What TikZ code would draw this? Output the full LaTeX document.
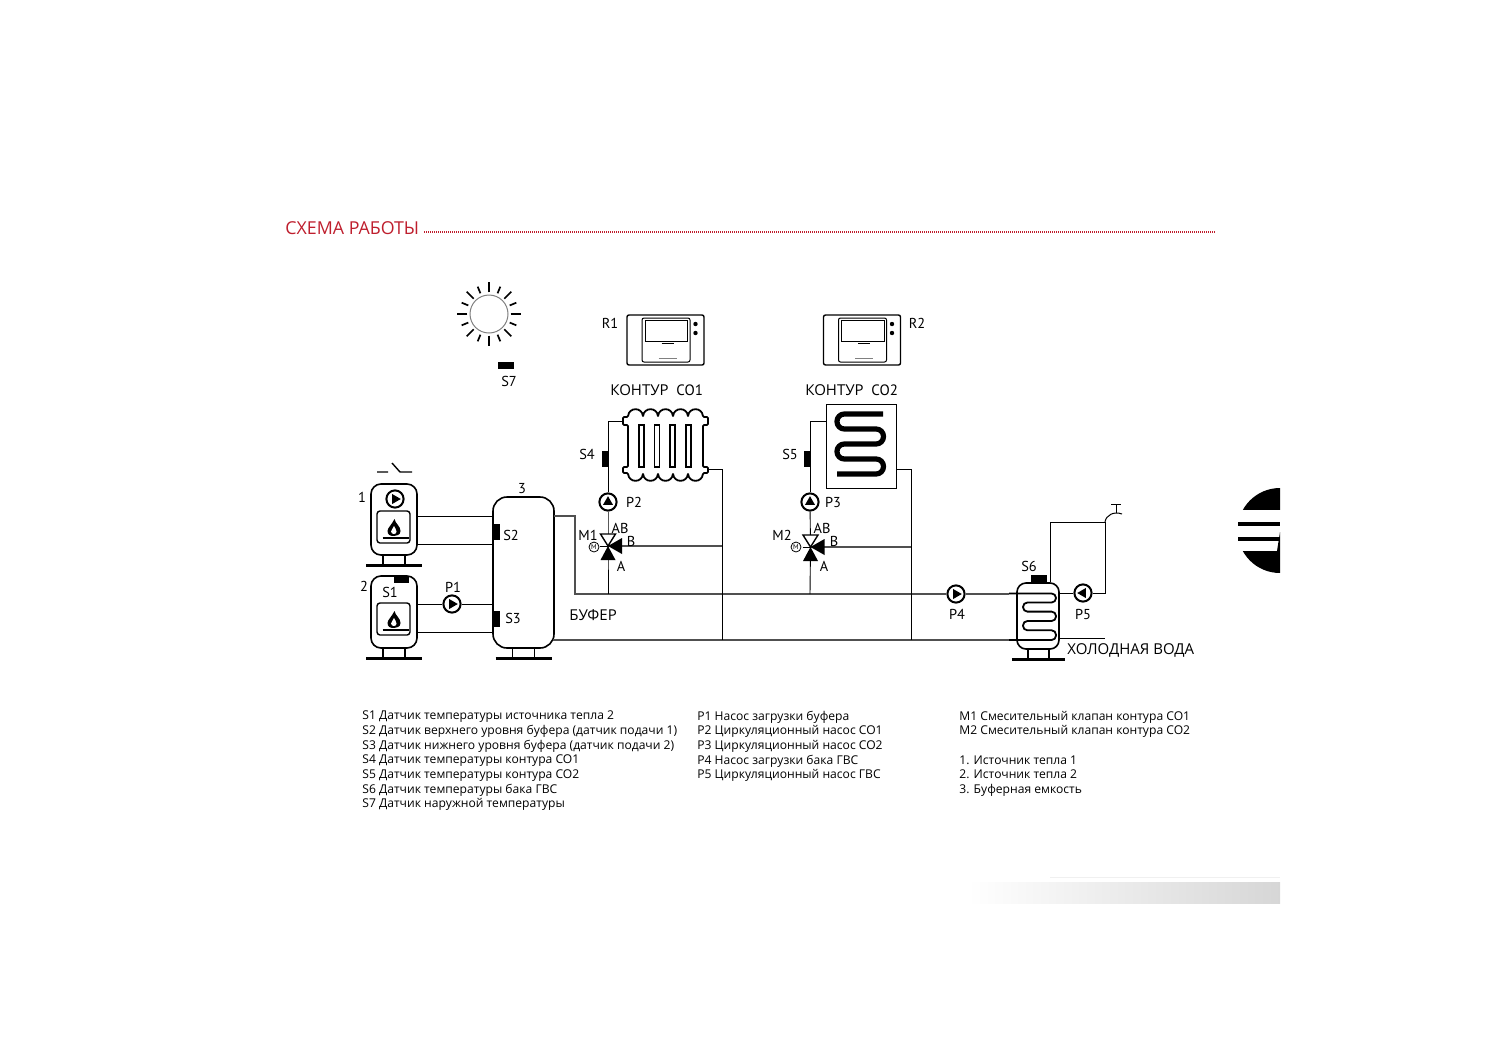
\documentclass[tikz,border=0pt]{standalone}
\usepackage{fontspec}
\setmainfont{Open Sans}
\newfontfamily\dinfont{PT Sans}
\usetikzlibrary{positioning}
\definecolor{schemered}{HTML}{BE1E2D}
\definecolor{pipegray}{HTML}{505050}
\tikzset{
  pipe/.style={line width=0.45pt,draw=black},
  mainpipe/.style={line width=0.7pt,draw=pipegray},
  vessel/.style={draw,line width=0.8pt,rounded corners=5pt,fill=white,inner sep=0pt},
  sensor/.style={fill=black,inner sep=0pt,minimum width=#1},
  pumpnode/.style={circle,draw,line width=1pt,fill=white,inner sep=0pt,minimum size=8.6pt,
    path picture={\fill[black] ([shift={(#1:2.9pt)}]path picture bounding box.center)
      -- ([shift={(#1+120:2.9pt)}]path picture bounding box.center)
      -- ([shift={(#1+240:2.9pt)}]path picture bounding box.center) -- cycle;}},
  lbl/.style={font=\dinfont\fontsize{7.2}{8}\selectfont,inner sep=0pt},
  capt/.style={font=\fontsize{7.5}{8}\selectfont,inner sep=0pt},
  legend/.style={font=\fontsize{6.05}{7.35}\selectfont,inner sep=0pt,anchor=north west,align=left},
  feet/.pic={
    \draw[line width=0.8pt] (-11,0) -- (-11,10) (11,0) -- (11,10);
    \draw[line width=1.3pt] (-28,10.5) -- (28,10.5);
  },
  burner/.pic={
    \draw[line width=0.7pt,rounded corners=1.5pt] (-16.5,-16) rectangle (16.5,16);
    \fill (1,-8) .. controls (2,-3) and (7,-1) .. (7,4) .. controls (7,8) and (3,9) .. (0.5,9)
      .. controls (-3,9) and (-6,8) .. (-6,4) .. controls (-6,1) and (-2,-2) .. (1,-8) -- cycle;
    \fill[white] (0.5,-1) .. controls (1,1) and (3,2) .. (3,4.5) .. controls (3,6) and (2,7) .. (0.5,7)
      .. controls (-1,7) and (-2.5,6) .. (-2.5,4.5) .. controls (-2.5,3) and (0,1) .. (0.5,-1) -- cycle;
    \draw[line width=0.9pt] (-11,11) -- (15,11);
  },
  mixvalve/.pic={
    \draw[line width=0.7pt,fill=white] (-7.5,-12) -- (7.5,-12) -- (0,0) -- cycle;
    \fill (-7.5,14) -- (7.5,14) -- (0,0) -- cycle;
    \fill (14,-8) -- (14,8) -- (0,0) -- cycle;
    \draw[line width=0.4pt] (-8,0) -- (0,0);
  },
  panel/.pic={
    \draw[line width=0.7pt,rounded corners=1pt] (-38.5,-25) rectangle (38.5,25);
    \draw[line width=0.5pt,rounded corners=1pt] (-23.5,-22) rectangle (24.5,22);
    \draw[line width=0.5pt] (-20.5,-20) rectangle (22,1);
    \draw[line width=0.9pt] (-4,3.5) -- (8,3.5);
    \draw[line width=0.3pt,gray] (-7,18) -- (11,18);
    \fill (30,-16) circle (1.1pt) (30,-7) circle (1.1pt);
  },
}
\begin{document}
\begin{tikzpicture}[x=0.5pt,y=-0.5pt]
  \useasboundingbox (0,0) rectangle (1500,1061);

  % heading
  \node[font=\fontsize{8.9}{10}\selectfont,text=schemered,inner sep=0pt,anchor=west] (title) at (285,228) {СХЕМА РАБОТЫ};
  \coordinate (ruleend) at (1215,232);
  \draw[schemered,line width=0.6pt,dash pattern=on 0.5pt off 0.5pt] (424,232) -- (ruleend);

  % vessels
  \node[vessel,minimum width=23pt,minimum height=35.5pt] (boilerA) at (394,519.5) {};
  \node[vessel,minimum width=23pt,minimum height=36pt] (boilerB) at (394,612) {};
  \node[vessel,rounded corners=7pt,minimum width=30.5pt,minimum height=75.5pt] (buffer) at (523.5,572.5) {};
  \pic at (394,555) {feet};
  \pic at (394,648) {feet};
  \pic at (523.5,648) {feet};
  \pic at (393.5,527) {burner};
  \pic at (393.5,619) {burner};

  % burner switch
  \coordinate (swa) at (377,472);
  \coordinate (swb) at (388,472);
  \coordinate (swc) at (392,463);
  \coordinate (swd) at (400,472);
  \coordinate (swe) at (412,472);
  \draw[line width=0.7pt] (swa) -- (swb) (swc) -- (swd) -- (swe);

  % pumps
  \node[pumpnode=0] (pumpA) at (395,499) {};
  \node[pumpnode=0] (pumpB) at (452,604) {};
  \node[pumpnode=90] (pumpC) at (608,502) {};
  \node[pumpnode=90] (pumpD) at (810,502) {};
  \node[pumpnode=0] (pumpE) at (956,594) {};
  \node[pumpnode=180] (pumpF) at (1083,593) {};

  % sensors
  \node[sensor=7.5pt,minimum height=3.5pt] (sensA) at (401.5,579.5) {};
  \node[sensor=3.5pt,minimum height=8pt] (sensB) at (496.5,532) {};
  \node[sensor=3.5pt,minimum height=8pt] (sensC) at (496.5,619) {};
  \node[sensor=3.5pt,minimum height=8pt] (sensD) at (605.5,459) {};
  \node[sensor=3.5pt,minimum height=8pt] (sensE) at (807.5,459) {};
  \node[sensor=8pt,minimum height=4pt] (sensF) at (1039,579) {};
  \node[sensor=8pt,minimum height=3.5pt] (sensG) at (506,365.5) {};

  % sun
  \node[circle,draw=gray,line width=0.5pt,inner sep=0pt,minimum size=19pt] (sun) at (489,314) {};
  \foreach \a in {0,45,...,315}
    \draw[line width=0.85pt] ([shift={(\a:10.8pt)}]sun.center) -- ([shift={(\a:15.8pt)}]sun.center);
  \foreach \a in {22.5,67.5,...,337.5}
    \draw[line width=0.85pt] ([shift={(\a:11.2pt)}]sun.center) -- ([shift={(\a:14.8pt)}]sun.center);

  % room panels
  \pic at (665.5,340) {panel};
  \pic at (862,340) {panel};

  % radiator
  \draw[line width=0.9pt,fill=white,rounded corners=0.6pt] (628,417)
    \foreach \i in {0,15,30,45,60} { .. controls (628+\i+1,407) and (628+\i+14,407) .. (628+\i+15,417) }
    -- (708,417) -- (708,425) -- (703,425) -- (703,467) -- (708,467) -- (708,473) -- (703,473)
    \foreach \i in {0,15,30,45,60} { .. controls (703-\i-1,483) and (703-\i-14,483) .. (703-\i-15,473) }
    -- (623,473) -- (623,467) -- (628,467) -- (628,425) -- (623,425) -- (623,417) -- cycle;
  \foreach \i in {639,654.5,670,686}
    \draw[line width=0.8pt] (\i,425) rectangle (\i+5,467);
  \coordinate (radin) at (623,421);
  \coordinate (radout) at (708,469);

  % floor loop
  \node[draw,line width=0.5pt,inner sep=0pt,minimum width=35pt,minimum height=42pt] (floor) at (861,446) {};
  \draw[line width=2.6pt,rounded corners=3.7pt] (883,414) -- (837,414) -- (837,429) -- (883.5,429) -- (883.5,444)
    -- (837,444) -- (837,459) -- (883.5,459) -- (883.5,474) -- (837,474);

  % water tank
  \node[vessel,rounded corners=4.5pt,minimum width=21pt,minimum height=33pt] (tank) at (1038,616) {};
  \pic[xscale=0.95] at (1038.5,649) {feet};
  \draw[line width=0.9pt,rounded corners=2.2pt] (1009,593.5) -- (1056,593.5) -- (1056,602.5) -- (1023,602.5) -- (1023,611.6)
    -- (1056,611.6) -- (1056,621) -- (1023,621) -- (1023,630.3) -- (1056,630.3) -- (1056,640) -- (1009,640);

  % tap
  \coordinate (tapbase) at (1105,522);
  \coordinate (tapend) at (1122,514);
  \coordinate (tapstem) at (1116,513);
  \coordinate (tapknob) at (1116,504);
  \draw[line width=0.5pt] (tapbase) .. controls (1106,515) and (1114,511) .. (tapend);
  \draw[line width=0.5pt] (tapstem) -- (tapknob) (1111,504) -- (1121,504);

  % boiler connections
  \coordinate (feedA) at (450,516);
  \coordinate (backA) at (450,544);
  \coordinate (backB) at (450,632);
  \draw[pipe] (boilerA.east |- feedA) -- (buffer.west |- feedA);
  \draw[pipe] (boilerA.east |- backA) -- (buffer.west |- backA);
  \draw[pipe] (boilerB.east |- pumpB) -- (pumpB) -- (buffer.west |- pumpB);
  \draw[pipe] (boilerB.east |- backB) -- (buffer.west |- backB);

  % supply and return mains
  \coordinate (mainout) at (554,516);
  \coordinate (maindrop) at (575,516);
  \coordinate (maincorner) at (575,594);
  \coordinate (mainret) at (553,640);
  \draw[mainpipe] (mainout) -- (maindrop) -- (maincorner) -- (pumpE);
  \draw[mainpipe] (pumpE) -- (1009,594);
  \draw[mainpipe] (mainret) -- (1009,640);

  % circuit one
  \coordinate (valveA) at (608,546);
  \coordinate (retA) at (722,640);
  \draw[pipe] (radin) -- (608,421) -- (pumpC);
  \draw[pipe] (pumpC) -- (valveA) -- (608,594);
  \draw[pipe] (radout) -- (722,469) -- (retA);
  \draw[mainpipe] (valveA) -- (722,546);
  \pic at (valveA) {mixvalve};
  \node[circle,draw,line width=0.4pt,fill=white,inner sep=0pt,minimum size=5pt,font=\dinfont\fontsize{3.5}{4}\selectfont] (motorA) at (594,547) {М};

  % circuit two
  \coordinate (valveB) at (810.5,547);
  \coordinate (retB) at (911,640);
  \draw[pipe] (floor.west |- radin) -- (810,421) -- (pumpD);
  \draw[pipe] (pumpD) -- (valveB) -- (810,594);
  \draw[pipe] (floor.east |- radout) -- (911,469) -- (retB);
  \draw[mainpipe] (valveB) -- (911,547);
  \pic at (valveB) {mixvalve};
  \node[circle,draw,line width=0.4pt,fill=white,inner sep=0pt,minimum size=5pt,font=\dinfont\fontsize{3.5}{4}\selectfont] (motorB) at (796,547) {М};

  % hot water loop
  \coordinate (loopcorner) at (1105,593);
  \coordinate (looptop) at (1050,522);
  \coordinate (coldend) at (1105,638);
  \draw[pipe] (tank.east |- pumpF) -- (pumpF) -- (loopcorner) -- (tapbase) -- (looptop) -- (tank.north -| looptop);
  \draw[pipe] (tank.east |- coldend) -- (coldend);

  % diagram labels
  \node[lbl] (numA) at (362,497) {1};
  \node[lbl] (numB) at (364,586) {2};
  \node[lbl] (numC) at (522,489) {3};
  \node[lbl] (labS1) at (390,592) {S1};
  \node[lbl] (labS2) at (511,535) {S2};
  \node[lbl] (labS3) at (513,618) {S3};
  \node[lbl] (labS4) at (587,454) {S4};
  \node[lbl] (labS5) at (790,454) {S5};
  \node[lbl] (labS6) at (1029,566) {S6};
  \node[lbl] (labS7) at (509,381) {S7};
  \node[lbl] (labP1) at (453,587) {P1};
  \node[lbl] (labP2) at (634,502) {P2};
  \node[lbl] (labP3) at (833,502) {P3};
  \node[lbl] (labP4) at (957,614) {P4};
  \node[lbl] (labP5) at (1083,614) {P5};
  \node[lbl] (labR1) at (610,323) {R1};
  \node[lbl] (labR2) at (917,323) {R2};
  \node[lbl] (labM1) at (588,535) {M1};
  \node[lbl] (labM2) at (782,535) {M2};
  \node[lbl] (labABa) at (620,528) {AB};
  \node[lbl] (labBa) at (631,541) {B};
  \node[lbl] (labAa) at (621,566) {A};
  \node[lbl] (labABb) at (822,528) {AB};
  \node[lbl] (labBb) at (834,541) {B};
  \node[lbl] (labAb) at (824,566) {A};
  \node[capt,anchor=west] (capA) at (610,390) {КОНТУР\ \ {\dinfont СО1}};
  \node[capt,anchor=west] (capB) at (805,390) {КОНТУР\ \ {\dinfont СО2}};
  \node[capt,anchor=west] (capC) at (569,615) {БУФЕР};
  \node[capt,anchor=west] (capD) at (1067,650) {ХОЛОДНАЯ ВОДА};

  % legend
  \node[legend] (legA) at (362,710.5) {S1 Датчик температуры источника тепла 2\\
    S2 Датчик верхнего уровня буфера (датчик подачи 1)\\
    S3 Датчик нижнего уровня буфера (датчик подачи 2)\\
    S4 Датчик температуры контура СО1\\
    S5 Датчик температуры контура СО2\\
    S6 Датчик температуры бака ГВС\\
    S7 Датчик наружной температуры};
  \node[legend] (legB) at (697,710.5) {P1 Насос загрузки буфера\\
    P2 Циркуляционный насос СО1\\
    P3 Циркуляционный насос СО2\\
    P4 Насос загрузки бака ГВС\\
    P5 Циркуляционный насос ГВС};
  \node[legend] (legC) at (959,710.5) {M1 Смесительный клапан контура СО1\\
    M2 Смесительный клапан контура СО2\\[7.35pt]
    1. Источник тепла 1\\
    2. Источник тепла 2\\
    3. Буферная емкость};

  % page mark
  \begin{scope}
    \clip (1230,480) rectangle (1280,509);
    \fill (1280,530.5) circle (21.25pt);
  \end{scope}
  \begin{scope}
    \clip (1230,551) -- (1277,551) -- (1280,532) -- (1280,580) -- (1230,580) -- cycle;
    \fill (1280,530.5) circle (21.25pt);
  \end{scope}
  \fill (1238,522) rectangle (1280,525.5);
  \fill (1238,537) rectangle (1280,540.5);

  % page strip
  \shade[left color=white,right color=black!16] (968,882) rectangle (1280,903);
  \draw[black!6,line width=0.4pt] (1050,877.5) -- (1280,877.5);
\end{tikzpicture}
\end{document}
